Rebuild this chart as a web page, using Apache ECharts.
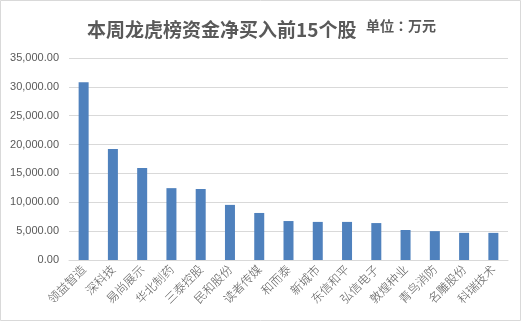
<!DOCTYPE html>
<html><head><meta charset="utf-8">
<script src="https://cdn.jsdelivr.net/npm/echarts@6/dist/echarts.min.js"></script>
<style>html,body{margin:0;padding:0;background:#fff}#c{width:522px;height:322px}</style>
</head><body><div id="c"></div>
<script>
var categories = ['领益智造','深科技','易尚展示','华北制药','三泰控股','民和股份','读者传媒','和而泰','新城市','东信和平','弘信电子','敦煌种业','青鸟消防','名雕股份','科瑞技术'];
var values = [30800, 19250, 15950, 12450, 12300, 9550, 8150, 6750, 6600, 6600, 6400, 5200, 5000, 4700, 4700];
var chart = echarts.init(document.getElementById('c'), null, {renderer:'canvas'});
chart.setOption({
  animation:false,
  backgroundColor:'#fff',
  title:{
    text:'本周龙虎榜资金净买入前15个股',
    left:82, top:15,
    textStyle:{fontFamily:'Noto Sans CJK SC', fontSize:19, fontWeight:'bold', color:'#595959'}
  },
  graphic:[
    {type:'text', left:366, top:19, style:{text:'单位：万元', font:'bold 14px "Noto Sans CJK JP"', fill:'#595959'}},
    {type:'rect', shape:{x:0.5,y:0.5,width:520,height:320}, style:{fill:'none', stroke:'#d9d9d9', lineWidth:1}, silent:true}
  ],
  grid:{left:69, right:14, top:58, bottom:62, containLabel:false},
  xAxis:{
    type:'category', data:categories,
    axisLine:{lineStyle:{color:'#d9d9d9'}},
    axisTick:{show:false},
    axisLabel:{rotate:45, interval:0, color:'#595959', fontSize:12, fontFamily:'Noto Sans CJK SC', fontWeight:300, margin:7}
  },
  yAxis:{
    type:'value', min:0, max:35000, interval:5000,
    axisLine:{show:false}, axisTick:{show:false},
    splitLine:{lineStyle:{color:'#d9d9d9'}},
    axisLabel:{color:'#595959', fontSize:11, fontFamily:'Liberation Sans', margin:10,
      formatter:function(v){return v.toLocaleString('en-US',{minimumFractionDigits:2,maximumFractionDigits:2});}}
  },
  series:[{type:'bar', data:values, barWidth:10, itemStyle:{color:'#4F81BD'}}]
});
</script></body></html>
